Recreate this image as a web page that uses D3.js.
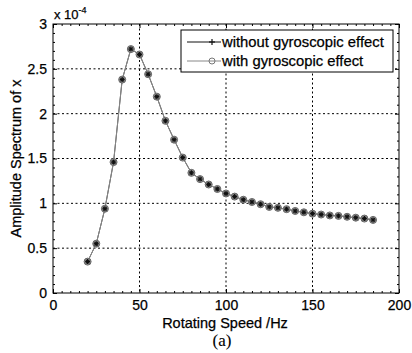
<!DOCTYPE html>
<html>
<head>
<meta charset="utf-8">
<script src="https://cdn.jsdelivr.net/npm/d3@7"></script>
<style>
  body { margin: 0; background: #fff; }
  text { font-family: "Liberation Sans", Arial, sans-serif; fill: #000; stroke: #000; stroke-width: 0.25px; }
</style>
</head>
<body>
<div id="chart"></div>
<script>
// rotating speed (Hz) and amplitude (x 1e-4)
const speeds = [20,25,30,35,40,45,50,55,60,65,70,75,80,85,90,95,100,105,110,115,120,125,130,135,140,145,150,155,160,165,170,175,180,185];
const withoutGyro = [0.35,0.55,0.94,1.46,2.38,2.72,2.66,2.44,2.19,1.92,1.71,1.51,1.34,1.27,1.21,1.16,1.11,1.075,1.04,1.015,0.99,0.96,0.95,0.935,0.915,0.90,0.885,0.875,0.865,0.86,0.85,0.84,0.83,0.815];
const withGyro = [0.35,0.55,0.94,1.46,2.38,2.72,2.66,2.44,2.19,1.92,1.71,1.51,1.34,1.27,1.21,1.16,1.11,1.075,1.04,1.015,0.99,0.96,0.95,0.935,0.915,0.90,0.885,0.875,0.865,0.86,0.85,0.84,0.83,0.815];
const xTicks = [0,50,100,150,200];
const yTicks = [0,0.5,1,1.5,2,2.5,3];
const seriesNames = ["without gyroscopic effect", "with gyroscopic effect"];

const W = 412, H = 353;
const margin = {top: 24, right: 13, bottom: 60, left: 53};
const iw = W - margin.left - margin.right, ih = H - margin.top - margin.bottom;

const svg = d3.select("#chart").append("svg").attr("width", W).attr("height", H);
const g = svg.append("g").attr("transform", `translate(${margin.left},${margin.top})`);

const x = d3.scaleLinear().domain([0, 200]).range([0, iw]);
const y = d3.scaleLinear().domain([0, 3]).range([ih, 0]);

// dotted grid
g.append("g").selectAll("line").data(xTicks.slice(1, -1)).enter().append("line")
  .attr("x1", d => x(d)).attr("x2", d => x(d)).attr("y1", 0).attr("y2", ih)
  .attr("stroke", "#000").attr("stroke-dasharray", "2,2.5").attr("stroke-width", 1);
g.append("g").selectAll("line").data(yTicks.slice(1, -1)).enter().append("line")
  .attr("y1", d => y(d)).attr("y2", d => y(d)).attr("x1", 0).attr("x2", iw)
  .attr("stroke", "#000").attr("stroke-dasharray", "2,2.5").attr("stroke-width", 1);

// axes with inward ticks
const xMinor = d3.range(0, 201, 5).filter(d => d % 50 !== 0);
const yMinor = d3.range(0, 31, 1).map(d => d / 10).filter(d => Math.round(d * 10) % 5 !== 0);

function styleAxis(sel) {
  sel.select(".domain").remove();
  sel.selectAll("text").style("font-size", "14px");
  sel.selectAll("line").attr("stroke", "#000");
}
g.append("g").attr("transform", `translate(0,${ih})`)
  .call(d3.axisBottom(x).tickValues(xTicks).tickSize(-4).tickPadding(7).tickFormat(d3.format("d")))
  .call(styleAxis);
g.append("g").attr("transform", `translate(0,${ih})`)
  .call(d3.axisBottom(x).tickValues(xMinor).tickSize(-2).tickFormat(""))
  .call(styleAxis);
g.append("g").call(d3.axisTop(x).tickValues(xTicks).tickSize(-4).tickFormat(""))
  .call(styleAxis);
g.append("g").call(d3.axisTop(x).tickValues(xMinor).tickSize(-2).tickFormat(""))
  .call(styleAxis);
g.append("g")
  .call(d3.axisLeft(y).tickValues(yTicks).tickSize(-4).tickPadding(6).tickFormat(d => d))
  .call(styleAxis);
g.append("g").call(d3.axisLeft(y).tickValues(yMinor).tickSize(-2).tickFormat(""))
  .call(styleAxis);
g.append("g").attr("transform", `translate(${iw},0)`)
  .call(d3.axisRight(y).tickValues(yTicks).tickSize(-4).tickFormat(""))
  .call(styleAxis);
g.append("g").attr("transform", `translate(${iw},0)`)
  .call(d3.axisRight(y).tickValues(yMinor).tickSize(-2).tickFormat(""))
  .call(styleAxis);

g.append("rect").attr("width", iw).attr("height", ih)
  .attr("fill", "none").attr("stroke", "#000").attr("stroke-width", 1);

// series
const line = d3.line().x(d => x(d[0])).y(d => y(d[1]));
const s1 = speeds.map((s, i) => [s, withoutGyro[i]]);
const s2 = speeds.map((s, i) => [s, withGyro[i]]);

g.append("path").datum(s1).attr("d", line).attr("fill", "none").attr("stroke", "#444").attr("stroke-width", 1);
g.append("path").datum(s2).attr("d", line).attr("fill", "none").attr("stroke", "#888").attr("stroke-width", 1);

function star(sel, cx, cy, r) {
  const p = sel.append("g").attr("transform", `translate(${cx},${cy})`)
    .attr("stroke", "#111").attr("stroke-width", 1.2);
  [0, 45, 90, 135].forEach(a => {
    const rad = a * Math.PI / 180;
    p.append("line").attr("x1", -r * Math.cos(rad)).attr("y1", -r * Math.sin(rad))
      .attr("x2", r * Math.cos(rad)).attr("y2", r * Math.sin(rad));
  });
}
function plus(sel, cx, cy, r) {
  const p = sel.append("g").attr("transform", `translate(${cx},${cy})`)
    .attr("stroke", "#111").attr("stroke-width", 1.2);
  p.append("line").attr("x1", -r).attr("x2", r);
  p.append("line").attr("y1", -r).attr("y2", r);
}

const marks = g.append("g");
s2.forEach(d => {
  marks.append("circle").attr("cx", x(d[0])).attr("cy", y(d[1])).attr("r", 3.5)
    .attr("fill", "#999").attr("stroke", "#666").attr("stroke-width", 1);
});
s1.forEach(d => star(marks, x(d[0]), y(d[1]), 2.5));

// legend
const lg = g.append("g").attr("transform", `translate(${181 - margin.left},${30 - margin.top})`);
lg.append("rect").attr("width", 212).attr("height", 42).attr("fill", "#fff").attr("stroke", "#000");
const rows = [{name: seriesNames[0], color: "#111"}, {name: seriesNames[1], color: "#888"}];
rows.forEach((r, i) => {
  const yy = 12 + i * 19;
  lg.append("line").attr("x1", 6).attr("x2", 40).attr("y1", yy).attr("y2", yy)
    .attr("stroke", r.color).attr("stroke-width", 1);
  if (i === 0) plus(lg, 31, yy, 3);
  else lg.append("circle").attr("cx", 31).attr("cy", yy).attr("r", 3)
    .attr("fill", "none").attr("stroke", "#777");
  lg.append("text").attr("x", 41).attr("y", yy).attr("dy", "0.35em")
    .style("font-size", "14.8px").text(r.name);
});

// labels
svg.append("text").attr("transform", `translate(16,${margin.top + ih / 2}) rotate(-90)`)
  .attr("text-anchor", "middle").attr("dy", "0.35em").style("font-size", "14.5px").text("Amplitude Spectrum of x");
svg.append("text").attr("x", 225).attr("y", 323).attr("dy", "0.35em")
  .attr("text-anchor", "middle").style("font-size", "14.5px").text("Rotating Speed /Hz");
svg.append("text").attr("x", 222).attr("y", 340).attr("dy", "0.35em")
  .attr("text-anchor", "middle").style("font-family", "'Liberation Serif', 'Times New Roman', serif")
  .style("stroke-width", "0.1px").style("font-size", "17px").text("(a)");
const exp = svg.append("text").attr("x", 54).attr("y", 19).style("font-size", "13px");
exp.append("tspan").text("x 10");
exp.append("tspan").attr("dy", -6).style("font-size", "9px").text("-4");
</script>
</body>
</html>
